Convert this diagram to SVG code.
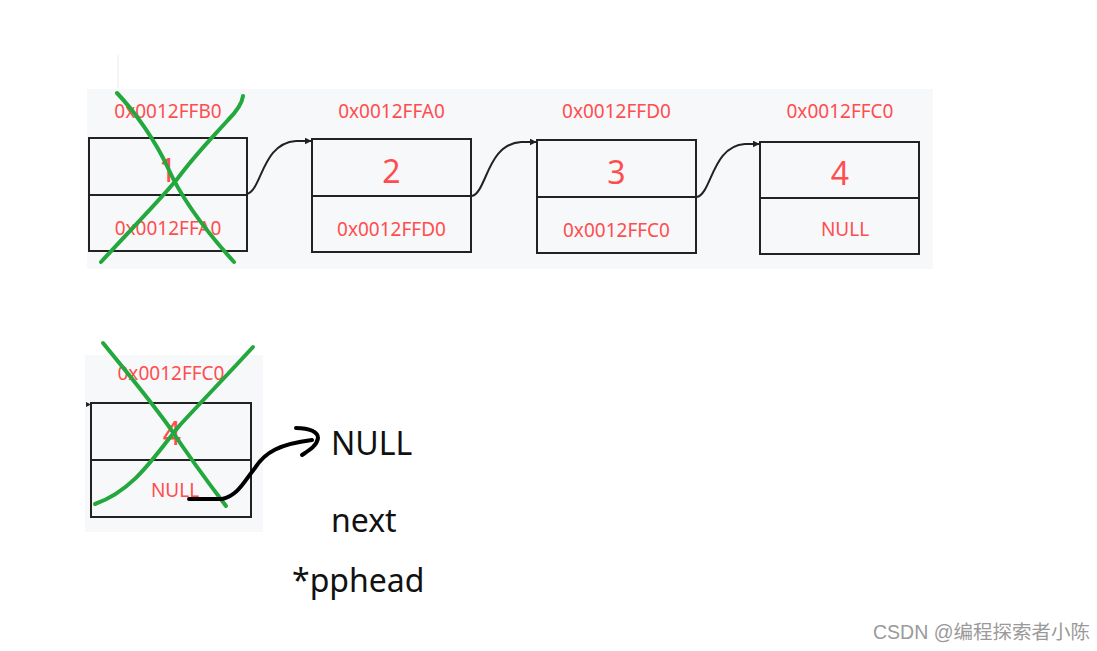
<svg xmlns="http://www.w3.org/2000/svg" width="1097" height="651" viewBox="0 0 1097 651">
<defs>
<style>
.bg{fill:#f7f8fa}
.box{fill:none;stroke:#222;stroke-width:2}
.addr{font-family:"Noto Sans","Liberation Sans",sans-serif;font-size:19px;fill:#ff4d4f;text-anchor:middle}
.num{font-family:"Noto Sans","Liberation Sans",sans-serif;font-size:32px;fill:#ff4d4f;text-anchor:middle}
.blk{font-family:"Noto Sans","Open Sans",sans-serif;font-size:32px;fill:#111}
.conn{fill:none;stroke:#222;stroke-width:2}
.cross{fill:none;stroke:#22a83c;stroke-width:4;stroke-linecap:round}
.hand{fill:none;stroke:#000;stroke-width:4;stroke-linecap:round;stroke-linejoin:round}
</style>
<marker id="arr" viewBox="0 0 10 10" refX="9" refY="5" markerWidth="7" markerHeight="7" markerUnits="userSpaceOnUse" orient="auto">
<path d="M0,0 L10,5 L0,10 z" fill="#222"/>
</marker>
</defs>
<rect width="1097" height="651" fill="#fff"/>
<line x1="118" y1="55" x2="118" y2="88" stroke="#ececec" stroke-width="1"/>
<rect class="bg" x="87" y="89" width="846" height="180"/>
<rect class="bg" x="85" y="355" width="178" height="177"/>

<g id="node1">
<text class="addr" x="168" y="118">0x0012FFB0</text>
<rect class="box" x="89" y="138" width="158" height="113"/>
<line class="box" x1="89" y1="195" x2="247" y2="195"/>
<text class="num" x="168" y="182">1</text>
<text class="addr" x="168" y="235">0x0012FFA0</text>
</g>
<g id="node2">
<text class="addr" x="391.5" y="118">0x0012FFA0</text>
<rect class="box" x="312" y="139" width="159" height="113"/>
<line class="box" x1="312" y1="196" x2="471" y2="196"/>
<text class="num" x="391.5" y="183">2</text>
<text class="addr" x="391.5" y="236">0x0012FFD0</text>
</g>
<g id="node3">
<text class="addr" x="616.5" y="118">0x0012FFD0</text>
<rect class="box" x="537" y="140" width="159" height="113"/>
<line class="box" x1="537" y1="197" x2="696" y2="197"/>
<text class="num" x="616.5" y="184">3</text>
<text class="addr" x="616.5" y="237">0x0012FFC0</text>
</g>
<g id="node4">
<text class="addr" x="840" y="118">0x0012FFC0</text>
<rect class="box" x="760" y="142" width="159" height="112"/>
<line class="box" x1="760" y1="198" x2="919" y2="198"/>
<text class="num" x="840" y="185">4</text>
<text class="addr" x="845" y="236">NULL</text>
</g>

<g id="connectors">
<path class="conn" d="M247,194 C262,190 262,143 296,141 L311,141" marker-end="url(#arr)"/>
<path class="conn" d="M472,196 C487,192 487,144 521,142 L536,142" marker-end="url(#arr)"/>
<path class="conn" d="M697,197 C712,193 712,146 745,144 L759,144" marker-end="url(#arr)"/>
</g>

<g id="cross1">
<path class="cross" d="M117,93 C135,112 155,140 168,168 C180,195 205,230 234,262"/>
<path class="cross" d="M243,96 C242,104 236,112 228,120 C210,140 195,155 178,178 C160,200 135,225 101,262"/>
</g>

<g id="node4copy">
<text class="addr" x="171" y="380">0x0012FFC0</text>
<rect class="box" x="91" y="403" width="160" height="114"/>
<line class="box" x1="91" y1="460" x2="251" y2="460"/>
<path d="M86,402 L91,404.5 L86,407 z" fill="#222"/>
<text class="num" x="172" y="445">4</text>
<text class="addr" x="175" y="497">NULL</text>
</g>

<g id="cross2">
<path class="cross" d="M103,343 C125,370 150,400 170,428 C190,458 210,485 226,506"/>
<path class="cross" d="M253,347 C230,372 205,398 180,425 C155,455 135,490 95,504"/>
</g>

<g id="handarrow">
<path class="hand" d="M189,499 L222,499 C238,496 245,480 255,468 C265,452 280,444 312,440"/>
<path class="hand" d="M296,428 C310,428 318,432 318,438 C317,446 308,451 302,455"/>
</g>

<g id="labels">
<text class="blk" x="331" y="455">NULL</text>
<text class="blk" x="331" y="532">next</text>
<text class="blk" x="292" y="592">*pphead</text>
</g>

<text x="1090" y="639" text-anchor="end" font-family="'Liberation Sans','Noto Sans CJK SC',sans-serif" font-size="19.5" fill="#9a9a9a">CSDN @编程探索者小陈</text>
</svg>
